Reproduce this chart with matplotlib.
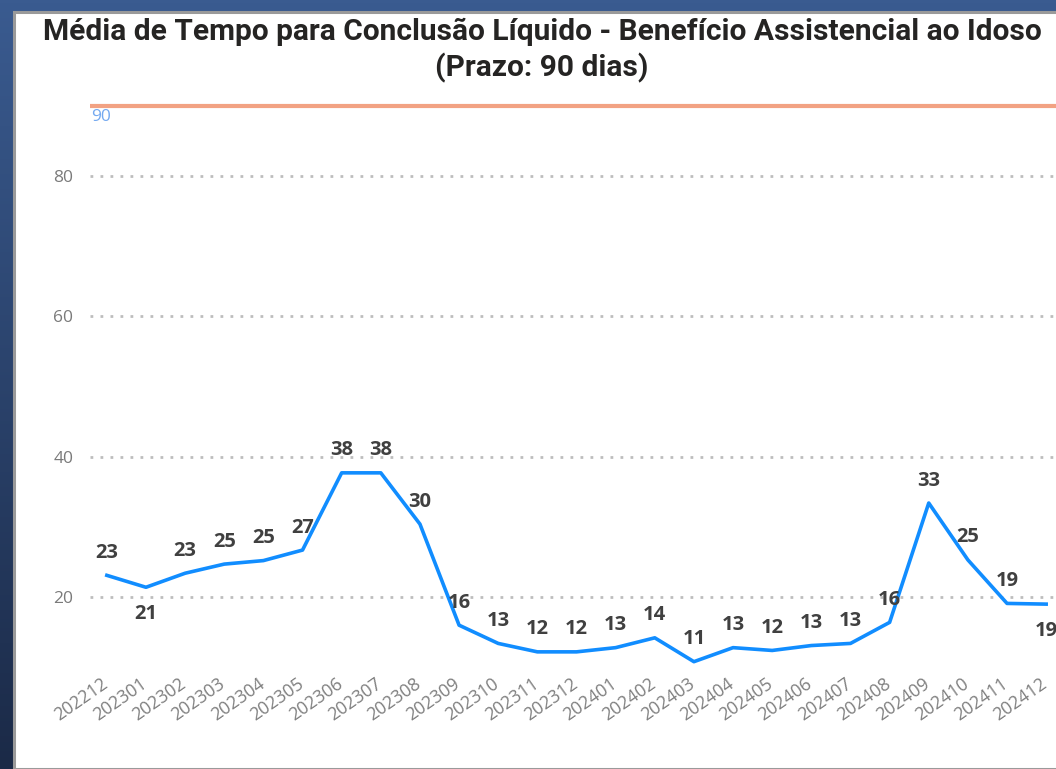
import numpy as np
import matplotlib
matplotlib.use("Agg")
import matplotlib.pyplot as plt
import matplotlib.transforms as mtransforms
from matplotlib.patches import Rectangle
from matplotlib.colors import LinearSegmentedColormap

# ---- data ----
months = ["202212", "202301", "202302", "202303", "202304", "202305", "202306",
          "202307", "202308", "202309", "202310", "202311", "202312", "202401",
          "202402", "202403", "202404", "202405", "202406", "202407", "202408",
          "202409", "202410", "202411", "202412"]
values = [23.1, 21.4, 23.4, 24.7, 25.2, 26.7, 37.7, 37.7, 30.4, 16.0, 13.4, 12.2,
          12.2, 12.8, 14.2, 10.8, 12.8, 12.4, 13.1, 13.4, 16.4, 33.4, 25.3, 19.1, 19.0]
value_labels = [23, 21, 23, 25, 25, 27, 38, 38, 30, 16, 13, 12, 12, 13, 14, 11,
                13, 12, 13, 13, 16, 33, 25, 19, 19]
label_below = ["202301", "202412"]
target = 90
y_ticks = [20, 40, 60, 80]
title_line1 = "Média de Tempo para Conclusão Líquido - Benefício Assistencial ao Idoso"
title_line2 = "(Prazo: 90 dias)"

W, H = 1056, 769
fig = plt.figure(figsize=(W / 100, H / 100), dpi=100)

# background gradient (dark blue frame)
bg = fig.add_axes([0, 0, 1, 1], zorder=-10)
cmap = LinearSegmentedColormap.from_list("bg", ["#3A5B90", "#1B2A47"])
grad = np.linspace(0, 1, 256).reshape(-1, 1)
bg.imshow(grad, aspect="auto", cmap=cmap, extent=[0, 1, 0, 1], origin="upper")
bg.set_xlim(0, 1); bg.set_ylim(0, 1)
bg.axis("off")
# white panel with gray border
bg.add_patch(Rectangle((13.5 / W, 0), 1, 1 - 11.5 / H, facecolor="white",
                       edgecolor="#9A9A9A", linewidth=2.2))

# main axes: pixel geometry
left_px, right_px = 90, 1063
ymin, ymax = 9, 91
bottom_px = 737.5 - 7.02 * ymin
top_px = 737.5 - 7.02 * ymax
ax = fig.add_axes([left_px / W, (H - bottom_px) / H, (right_px - left_px) / W,
                   (bottom_px - top_px) / H])
ax.set_facecolor("none")
x = np.arange(len(months))
ax.set_xlim(-0.43, len(months) - 1 + 0.43)
ax.set_ylim(ymin, ymax)

for s in ax.spines.values():
    s.set_visible(False)

ax.set_yticks(y_ticks)
ax.set_yticklabels([str(t) for t in y_ticks], fontsize=12.5, color="#7A7A7A",
                   family="Open Sans")
ax.tick_params(axis="y", length=0, pad=12)
ax.yaxis.grid(True, linestyle=(0, (1, 2.6)), color="#BDBDBD", linewidth=2.0)
ax.set_axisbelow(True)

ax.set_xticks(x)
ax.set_xticklabels(months, rotation=35, ha="right", va="top", rotation_mode="anchor",
                   fontsize=12.8, color="#7E7E7E", family="Open Sans")
ax.tick_params(axis="x", length=0, pad=0)
shift = mtransforms.ScaledTranslation(-6 / 100, 0, fig.dpi_scale_trans)
for lbl in ax.get_xticklabels():
    lbl.set_transform(lbl.get_transform() + shift)

# target line
ax.axhline(target, color="#F2A283", linewidth=3.0, zorder=2)
ax.text(0.001, target - 0.45, str(target), transform=ax.get_yaxis_transform(),
        color="#74A9F0", fontsize=12.5, va="top", ha="left", family="Open Sans")

# main line
ax.plot(x, values, color="#118DFF", linewidth=2.6, solid_joinstyle="round", zorder=3)

for xi, v, lab, m in zip(x, values, value_labels, months):
    if m in label_below:
        ax.annotate(str(lab), (xi, v), xytext=(0, -12), textcoords="offset points",
                    ha="center", va="top", fontsize=14.5, fontweight="bold",
                    color="#404040", family="Open Sans", zorder=4)
    else:
        ax.annotate(str(lab), (xi, v), xytext=(0, 9), textcoords="offset points",
                    ha="center", va="bottom", fontsize=14.5, fontweight="bold",
                    color="#404040", family="Open Sans", zorder=4)

# title
fig.text(542 / W, 1 - 32 / H, title_line1, ha="center", va="center", fontsize=21.5,
         fontweight="bold", color="#252423", family="Roboto")
fig.text(542 / W, 1 - 68 / H, title_line2, ha="center", va="center", fontsize=21.5,
         fontweight="bold", color="#252423", family="Roboto")

fig.savefig("out.png", dpi=100)
